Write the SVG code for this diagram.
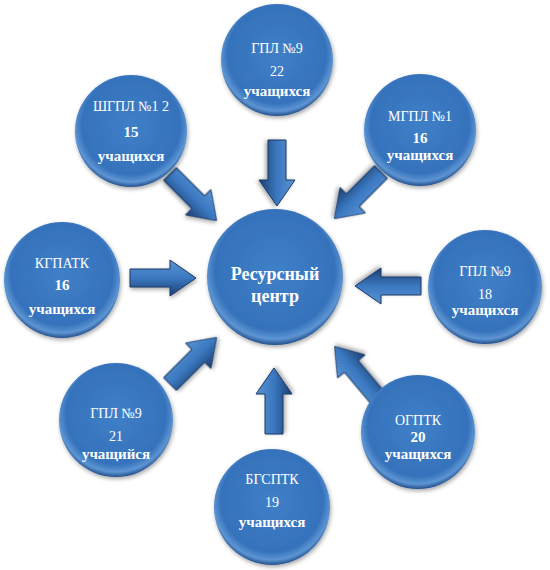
<svg xmlns="http://www.w3.org/2000/svg" width="550" height="570" viewBox="0 0 550 570">
<defs>
<radialGradient id="ball" cx="50%" cy="45%" r="55%">
<stop offset="0" stop-color="#3f80c8"/>
<stop offset="0.8" stop-color="#3572bb"/>
<stop offset="0.92" stop-color="#5d95d3"/>
<stop offset="1" stop-color="#244f8c"/>
</radialGradient>
<linearGradient id="arr" x1="0" y1="0" x2="0" y2="1">
<stop offset="0" stop-color="#5b93d2"/>
<stop offset="0.5" stop-color="#3a78c0"/>
<stop offset="1" stop-color="#1d3f70"/>
</linearGradient>
<filter id="sh" x="-20%" y="-20%" width="140%" height="140%">
<feGaussianBlur in="SourceAlpha" stdDeviation="2"/>
<feOffset dx="1" dy="2"/>
<feComponentTransfer><feFuncA type="linear" slope="0.35"/></feComponentTransfer>
<feMerge><feMergeNode/><feMergeNode in="SourceGraphic"/></feMerge>
</filter>
<path id="ar" d="M0,-9 L40,-9 L40,-18 L66,0 L40,18 L40,9 L0,9 Z"/>
</defs>
<style>
.c{fill:url(#ball);filter:url(#sh)}
.a{fill:url(#arr);stroke:#1a3a66;stroke-width:1;filter:url(#sh)}
text{font-family:"Liberation Serif","DejaVu Serif Condensed","DejaVu Serif",serif;fill:#ffffff;text-anchor:middle;font-size:14px}
.b{font-weight:700;font-size:15px}
.m{font-weight:700;font-size:18px}
</style>
<g id="connectors">
<use href="#ar" class="a" transform="translate(277,140) rotate(90)"/>
<use href="#ar" class="a" transform="translate(170,174) rotate(45)"/>
<use href="#ar" class="a" transform="translate(381,172) rotate(135)"/>
<use href="#ar" class="a" transform="translate(130,278)"/>
<use href="#ar" class="a" transform="translate(421,286) rotate(180)"/>
<use href="#ar" class="a" transform="translate(170,384) rotate(-45)"/>
<use href="#ar" class="a" transform="translate(274,434) rotate(-90)"/>
<use href="#ar" class="a" transform="translate(377,397) rotate(-130)"/>
</g>
<g id="center">
<circle class="c" cx="275" cy="277" r="68"/>
<text class="m" x="275" y="280">Ресурсный</text>
<text class="m" x="275" y="302">центр</text>
</g>
<g id="n-top">
<circle class="c" cx="277" cy="60" r="56"/>
<text x="277" y="53">ГПЛ №9</text>
<text x="277" y="76">22</text>
<text class="b" x="277" y="96">учащихся</text>
</g>
<g id="n-topleft">
<circle class="c" cx="131" cy="131" r="56"/>
<text x="131" y="111">ШГПЛ №1 2</text>
<text class="b" x="131" y="137">15</text>
<text class="b" x="131" y="161">учащихся</text>
</g>
<g id="n-topright">
<circle class="c" cx="420" cy="130" r="56"/>
<text x="420" y="121">МГПЛ №1</text>
<text class="b" x="420" y="143">16</text>
<text class="b" x="420" y="160">учащихся</text>
</g>
<g id="n-left">
<circle class="c" cx="62" cy="280" r="58"/>
<text x="62" y="268">КГПАТК</text>
<text class="b" x="62" y="290">16</text>
<text class="b" x="62" y="314">учащихся</text>
</g>
<g id="n-right">
<circle class="c" cx="485" cy="287" r="57"/>
<text x="485" y="276">ГПЛ №9</text>
<text x="485" y="299">18</text>
<text class="b" x="485" y="315">учащихся</text>
</g>
<g id="n-bottomleft">
<circle class="c" cx="116" cy="420" r="57"/>
<text x="116" y="418">ГПЛ №9</text>
<text x="116" y="441">21</text>
<text class="b" x="116" y="459">учащийся</text>
</g>
<g id="n-bottomright">
<circle class="c" cx="418" cy="432" r="57"/>
<text x="418" y="425">ОГПТК</text>
<text class="b" x="418" y="442">20</text>
<text class="b" x="418" y="459">учащихся</text>
</g>
<g id="n-bottom">
<circle class="c" cx="272" cy="507" r="58"/>
<text x="272" y="484">БГСПТК</text>
<text x="272" y="507">19</text>
<text class="b" x="272" y="527">учащихся</text>
</g>
</svg>
